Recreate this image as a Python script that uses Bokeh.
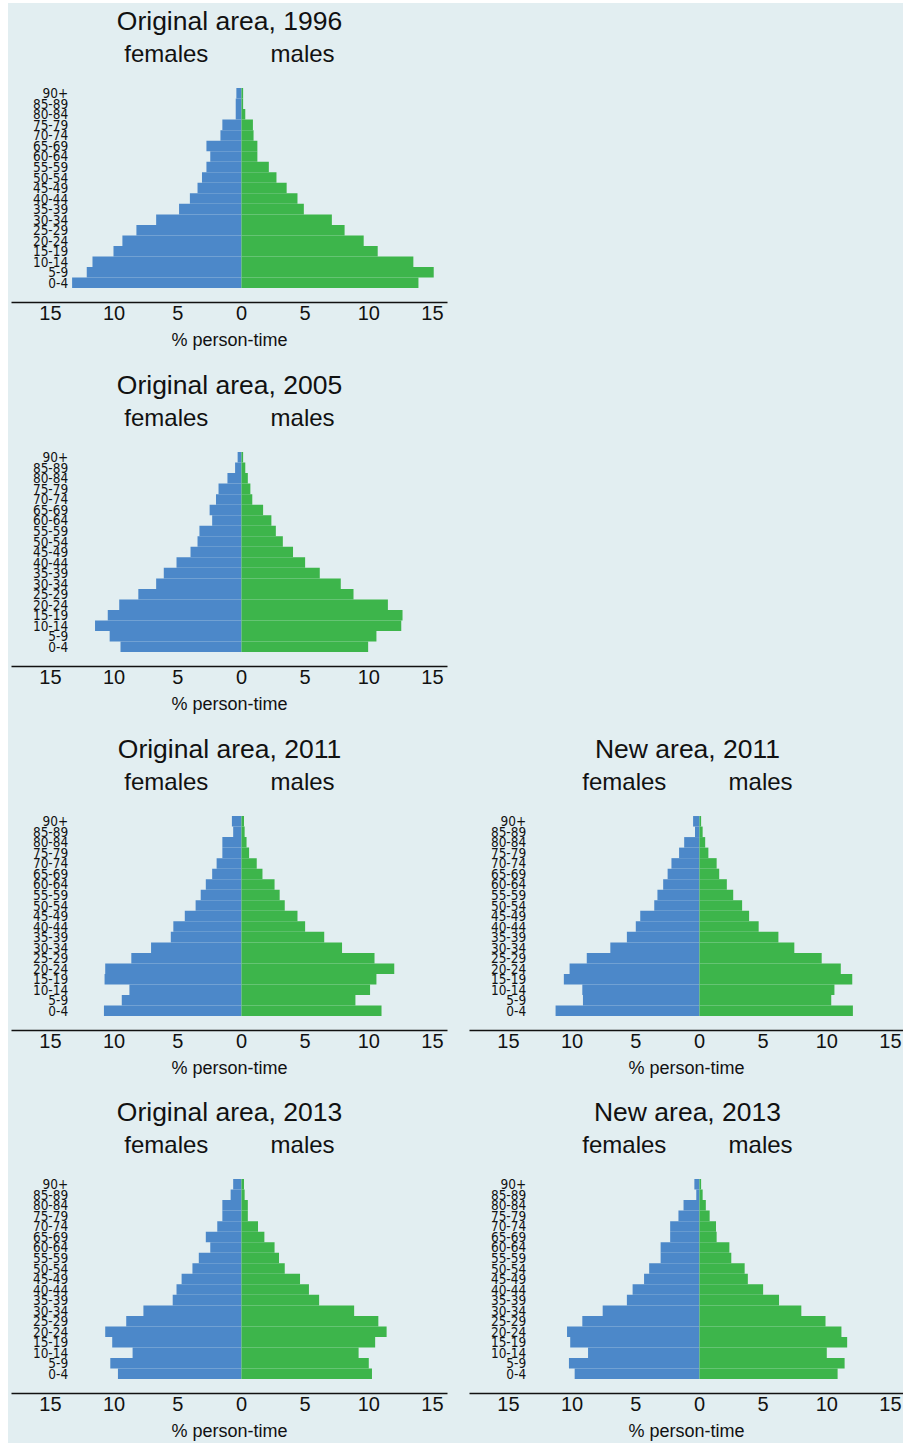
from bokeh.plotting import figure
from bokeh.models import Range1d, FixedTicker, Spacer
from bokeh.layouts import column, row
from bokeh.core.properties import value
from bokeh.embed import file_html
from bokeh.resources import INLINE

# ---------------- data ----------------
age_groups = ["0-4", "5-9", "10-14", "15-19", "20-24", "25-29", "30-34", "35-39",
              "40-44", "45-49", "50-54", "55-59", "60-64", "65-69", "70-74",
              "75-79", "80-84", "85-89", "90+"]

x_ticks = [-15, -10, -5, 0, 5, 10, 15]
x_tick_labels = ["15", "10", "5", "0", "5", "10", "15"]

titles = ["Original area, 1996", "Original area, 2005", "Original area, 2011",
          "New area, 2011", "Original area, 2013", "New area, 2013"]

f_orig_1996 = [13.3, 12.15, 11.7, 10.05, 9.35, 8.25, 6.7, 4.9, 4.05, 3.45, 3.1, 2.75, 2.45, 2.75, 1.65, 1.5, 0.45, 0.45, 0.4]
m_orig_1996 = [13.9, 15.1, 13.5, 10.7, 9.6, 8.1, 7.1, 4.9, 4.4, 3.55, 2.75, 2.15, 1.25, 1.25, 0.95, 0.9, 0.3, 0.13, 0.13]

f_orig_2005 = [9.5, 10.35, 11.5, 10.5, 9.6, 8.1, 6.7, 6.1, 5.1, 4.0, 3.45, 3.3, 2.3, 2.5, 2.0, 1.8, 1.1, 0.5, 0.3]
m_orig_2005 = [9.95, 10.6, 12.55, 12.65, 11.5, 8.8, 7.8, 6.15, 5.0, 4.05, 3.25, 2.7, 2.35, 1.7, 0.85, 0.7, 0.5, 0.3, 0.13]

f_orig_2011 = [10.8, 9.4, 8.8, 10.75, 10.7, 8.65, 7.1, 5.55, 5.35, 4.45, 3.6, 3.2, 2.8, 2.3, 1.95, 1.5, 1.5, 0.65, 0.75]
m_orig_2011 = [11.0, 8.95, 10.1, 10.6, 12.0, 10.45, 7.9, 6.5, 5.0, 4.4, 3.4, 3.0, 2.6, 1.65, 1.2, 0.6, 0.4, 0.25, 0.2]

f_new_2011 = [11.3, 9.15, 9.2, 10.65, 10.2, 8.85, 7.0, 5.7, 5.0, 4.65, 3.55, 3.3, 2.85, 2.5, 2.2, 1.6, 1.2, 0.35, 0.5]
m_new_2011 = [12.05, 10.35, 10.6, 12.0, 11.1, 9.6, 7.45, 6.2, 4.65, 3.9, 3.35, 2.65, 2.15, 1.55, 1.35, 0.7, 0.45, 0.25, 0.13]

f_orig_2013 = [9.7, 10.3, 8.55, 10.15, 10.7, 9.05, 7.7, 5.4, 5.1, 4.7, 3.85, 3.35, 2.45, 2.8, 1.9, 1.5, 1.5, 0.85, 0.65]
m_orig_2013 = [10.25, 10.0, 9.2, 10.5, 11.4, 10.75, 8.85, 6.1, 5.3, 4.6, 3.4, 2.95, 2.6, 1.8, 1.3, 0.5, 0.5, 0.25, 0.2]

f_new_2013 = [9.8, 10.25, 8.75, 10.15, 10.4, 9.2, 7.6, 5.7, 5.25, 4.35, 3.95, 3.05, 3.05, 2.3, 2.3, 1.65, 1.25, 0.25, 0.4]
m_new_2013 = [10.85, 11.4, 10.0, 11.6, 11.15, 9.9, 8.0, 6.25, 5.0, 3.8, 3.55, 2.5, 2.35, 1.35, 1.3, 0.8, 0.5, 0.25, 0.13]

# ---------------- style ----------------
BG = "#E2EEF1"
BLUE = "#4C88C9"
GREEN = "#3DB54B"
FONT = "Liberation Sans"
NARROW = "DejaVu Sans Condensed, Liberation Sans Narrow, sans-serif"

PX_PER_X = 12.733          # pixels per % unit
PX_PER_Y = 10.53           # pixels per age group
EXTRA_TOP = 5              # frame starts a few px above the nominal top
FRAME_H = 294 + EXTRA_TOP
LEFT_W = 458
RIGHT_W = 437
X_START = -18.06
Y_START = -0.5 - 14.4 / PX_PER_Y
Y_TOP = Y_START + 294 / PX_PER_Y          # nominal reference top
Y_END = Y_START + FRAME_H / PX_PER_Y


def pyramid(title, fem, mal, width, border_right, height):
    frame_w = width - 3 - border_right
    x_end = X_START + frame_w / PX_PER_X
    p = figure(width=width, height=height, output_backend="svg", toolbar_location=None,
               x_range=Range1d(X_START, x_end), y_range=Range1d(Y_START, Y_END),
               min_border_left=3, min_border_right=border_right, min_border_top=0,
               min_border_bottom=height - FRAME_H)
    p.background_fill_color = BG
    p.border_fill_color = BG
    p.outline_line_color = None
    p.grid.visible = False

    ys = list(range(len(age_groups)))
    p.hbar(y=ys, left=[-v for v in fem], right=0, height=1.0,
           fill_color=BLUE, line_color=None)
    p.hbar(y=ys, left=0, right=mal, height=1.0,
           fill_color=GREEN, line_color=None)

    # x axis
    xa = p.xaxis[0]
    xa.ticker = FixedTicker(ticks=x_ticks)
    xa.major_label_overrides = dict(zip(x_ticks, x_tick_labels))
    xa.axis_line_color = "#111111"
    xa.axis_line_width = 1.6
    xa.major_tick_line_color = None
    xa.minor_tick_line_color = None
    xa.major_tick_out = 0
    xa.major_tick_in = 0
    xa.major_label_standoff = 3
    xa.major_label_text_font = FONT
    xa.major_label_text_font_size = "20px"
    xa.major_label_text_color = "#111111"
    xa.axis_label = "% person-time"
    xa.axis_label_text_font = FONT
    xa.axis_label_text_font_size = "18px"
    xa.axis_label_text_font_style = "normal"
    xa.axis_label_text_color = "#111111"
    xa.axis_label_standoff = 7

    # y axis (age groups) drawn inside the frame
    ya = p.yaxis[0]
    ya.fixed_location = -13.45
    ya.ticker = FixedTicker(ticks=ys)
    ya.major_label_overrides = {i: a for i, a in zip(ys, age_groups)}
    ya.axis_line_color = None
    ya.major_tick_line_color = None
    ya.minor_tick_line_color = None
    ya.major_tick_out = 0
    ya.major_tick_in = 0
    ya.major_label_standoff = 2
    ya.major_label_text_font = NARROW
    ya.major_label_text_font_size = "13.5px"
    ya.major_label_text_color = "#111111"

    cx = (X_START + (X_START + (LEFT_W - 22) / PX_PER_X)) / 2
    p.text(x=[cx], y=[Y_TOP - 12 / PX_PER_Y], text=[title],
           text_font=value(FONT), text_font_size="26.5px", text_align="center",
           text_baseline="alphabetic", text_color="#111111")
    p.text(x=[-5.9, 4.8], y=[Y_TOP - 44.7 / PX_PER_Y] * 2, text=["females", "males"],
           text_font=value(FONT), text_font_size="24px", text_align="center",
           text_baseline="alphabetic", text_color="#111111")
    return p


TOP_PAD = 8 - EXTRA_TOP
H = [364, 364, 363, 344 + EXTRA_TOP]

p1 = pyramid(titles[0], f_orig_1996, m_orig_1996, LEFT_W, 19, H[0])
p2 = pyramid(titles[1], f_orig_2005, m_orig_2005, LEFT_W, 19, H[1])
p3 = pyramid(titles[2], f_orig_2011, m_orig_2011, LEFT_W, 19, H[2])
p4 = pyramid(titles[3], f_new_2011, m_new_2011, RIGHT_W, 0, H[2])
p5 = pyramid(titles[4], f_orig_2013, m_orig_2013, LEFT_W, 19, H[3])
p6 = pyramid(titles[5], f_new_2013, m_new_2013, RIGHT_W, 0, H[3])

s1 = Spacer(width=RIGHT_W, height=H[0], styles={"background-color": BG})
s2 = Spacer(width=RIGHT_W, height=H[1], styles={"background-color": BG})

grid = column(row(p1, s1, spacing=0), row(p2, s2, spacing=0),
              row(p3, p4, spacing=0), row(p5, p6, spacing=0),
              spacing=0, styles={"background-color": BG})

layout = column(Spacer(width=8, height=TOP_PAD),
                row(Spacer(width=8, height=sum(H)), grid, spacing=0),
                spacing=0)

open("out.html", "w").write(file_html(layout, INLINE))
